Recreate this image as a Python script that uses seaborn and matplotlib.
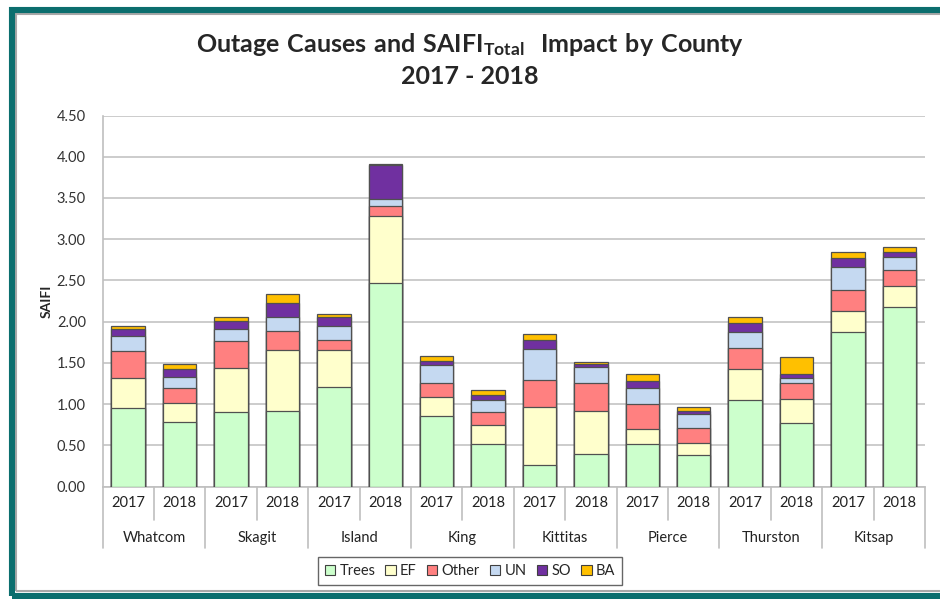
import matplotlib
matplotlib.use("Agg")
import matplotlib.pyplot as plt
from matplotlib.patches import Patch, Rectangle
from matplotlib.lines import Line2D
import seaborn as sns
import pandas as pd
import numpy as np

counties = ["Whatcom", "Skagit", "Island", "King", "Kittitas", "Pierce", "Thurston", "Kitsap"]
years = ["2017", "2018"]
causes = ["Trees", "EF", "Other", "UN", "SO", "BA"]

# one value per bar: Whatcom 2017, Whatcom 2018, Skagit 2017, ...
trees = [0.95, 0.78, 0.90, 0.92, 1.21, 2.47, 0.86, 0.51, 0.26, 0.40, 0.51, 0.38, 1.05, 0.77, 1.87, 2.18]
ef    = [0.37, 0.23, 0.54, 0.74, 0.44, 0.81, 0.22, 0.23, 0.70, 0.51, 0.19, 0.15, 0.38, 0.29, 0.26, 0.25]
other = [0.32, 0.18, 0.32, 0.23, 0.13, 0.12, 0.17, 0.16, 0.33, 0.34, 0.30, 0.18, 0.25, 0.20, 0.25, 0.20]
un    = [0.19, 0.14, 0.15, 0.17, 0.17, 0.09, 0.22, 0.15, 0.38, 0.20, 0.20, 0.17, 0.20, 0.06, 0.28, 0.15]
so    = [0.08, 0.10, 0.10, 0.17, 0.11, 0.41, 0.05, 0.06, 0.11, 0.04, 0.08, 0.03, 0.10, 0.05, 0.11, 0.06]
ba    = [0.04, 0.05, 0.04, 0.11, 0.03, 0.01, 0.06, 0.06, 0.07, 0.02, 0.08, 0.05, 0.07, 0.20, 0.08, 0.06]

colors = ["#CCFFCC", "#FFFFCC", "#FF8080", "#C5D9F1", "#7030A0", "#FFC000"]

bar_labels = [f"{c} {y}" for c in counties for y in years]
df = pd.DataFrame({"bar": bar_labels, "Trees": trees, "EF": ef, "Other": other,
                   "UN": un, "SO": so, "BA": ba})
cum = df[causes].cumsum(axis=1)

sns.set_style("white")
plt.rcParams["font.family"] = ["Lato", "DejaVu Sans"]
plt.rcParams["mathtext.fontset"] = "custom"
plt.rcParams["mathtext.bf"] = "Lato:bold"
plt.rcParams["mathtext.rm"] = "Lato"

W, H = 940, 599
fig = plt.figure(figsize=(W / 100, H / 100), dpi=100)
ax_l, ax_r, ax_t, ax_b = 102.5, 925, 115.5, 486.5
ax = fig.add_axes([ax_l / W, 1 - ax_b / H, (ax_r - ax_l) / W, (ax_b - ax_t) / H])

# stacked bars: draw cumulative totals from top layer down
for cause, col in reversed(list(zip(causes, colors))):
    sns.barplot(x=df["bar"], y=cum[cause], order=bar_labels, color=col, saturation=1,
                width=0.65, edgecolor="#505050", linewidth=0.9, ax=ax, zorder=3)

ax.set_ylim(0, 4.5)
ax.set_xlim(-0.5, 15.5)
ax.set_yticks(np.arange(0, 4.51, 0.5))
ax.set_yticklabels([f"{v:.2f}" for v in np.arange(0, 4.51, 0.5)], fontsize=10.5, color="#333333")
ax.tick_params(axis="y", length=0, pad=12)
ax.set_xticks([])
ax.set_xlabel("")
ax.set_ylabel("SAIFI", fontsize=10, fontweight="bold", labelpad=3)
ax.yaxis.grid(True, color="#C8C8C8", linewidth=1.3, zorder=0)
ax.set_axisbelow(True)
for s in ["top", "right"]:
    ax.spines[s].set_visible(False)
ax.spines["left"].set_color("#BFBFBF")
ax.spines["bottom"].set_color("#BFBFBF")
ax.spines["left"].set_linewidth(1.2)
ax.spines["bottom"].set_linewidth(1.2)

# two-level category axis
ph = ax_b - ax_t
tr = ax.get_xaxis_transform()
y_year_end = -(520 - ax_b) / ph
y_cty_end = -(548 - ax_b) / ph
for i in range(17):
    xpos = i - 0.5
    yend = y_cty_end if i % 2 == 0 else y_year_end
    ax.add_line(Line2D([xpos, xpos], [0, yend], transform=tr, color="#BFBFBF",
                       linewidth=1.2, clip_on=False))
for i, lab in enumerate(bar_labels):
    ax.text(i, -(503 - ax_b) / ph, lab.split()[1], transform=tr, ha="center", va="center",
            fontsize=10.5, color="#222222")
for k, c in enumerate(counties):
    ax.text(2 * k + 0.5, -(538 - ax_b) / ph, c, transform=tr, ha="center", va="center",
            fontsize=10.5, color="#222222")

# title
fig.text(0.5, 1 - 45 / H, r"$\mathbf{Outage\ Causes\ and\ SAIFI_{Total}\ \ Impact\ by\ County}$",
         ha="center", va="center", fontsize=18)
fig.text(0.5, 1 - 77 / H, "2017 - 2018", ha="center", va="center", fontsize=18, fontweight="bold")

# legend
handles = [Patch(facecolor=c, edgecolor="#404040", linewidth=0.8, label=n) for n, c in zip(causes, colors)]
leg = fig.legend(handles=handles, loc="center", bbox_to_anchor=(0.5, 1 - 571 / H), ncol=6,
                 fontsize=10.5, frameon=True, fancybox=False, handlelength=0.7, handleheight=0.7,
                 handletextpad=0.3, columnspacing=0.7, borderpad=0.45)
leg.get_frame().set_edgecolor("#404040")
leg.get_frame().set_linewidth(1.0)

# teal frame
fig.add_artist(Rectangle((16 / W, 1 - 591 / H), 1, (591 - 14) / H, transform=fig.transFigure,
                         fill=False, edgecolor="#A8A8A8", linewidth=1.5))
fig.add_artist(Rectangle((12 / W, 1 - 596 / H), 1, (596 - 10) / H, transform=fig.transFigure,
                         fill=False, edgecolor="#0B6E6E", linewidth=4.4))

fig.savefig("out.png", dpi=100)
